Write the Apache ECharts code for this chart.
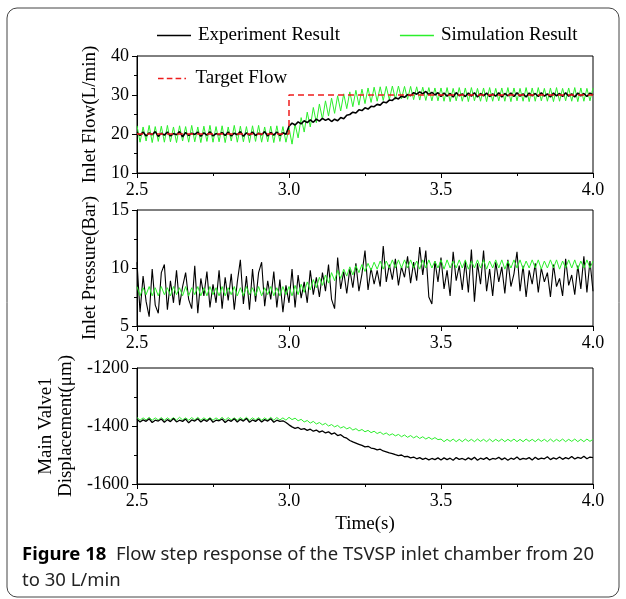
<!DOCTYPE html>
<html>
<head>
<meta charset="utf-8">
<script src="https://cdn.jsdelivr.net/npm/echarts@6.0.0/dist/echarts.min.js"></script>
<style>
  html, body { margin: 0; padding: 0; background: #fff; }
  #chart { width: 626px; height: 599px; }
</style>
</head>
<body>
<div id="chart"></div>
<script>
// time base: samples every 0.01 s from 2.50 s to 4.00 s
const T0 = 2.5;
const DT = 0.01;

// Inlet flow (L/min)
const expFlow = [
  20.4,19.6,20.5,19.5,20.3,19.8,20.6,19.4,20.2,19.7,
  20.5,19.5,20.1,19.8,20.6,19.3,20.4,19.6,20.2,19.9,
  20.5,19.4,20.3,19.7,20.6,19.5,20.1,19.8,20.4,19.6,
  20.5,19.5,20.2,19.8,20.6,19.4,20.3,19.7,20.5,19.6,
  20.2,19.8,20.6,19.5,20.4,19.7,20.5,19.6,20.3,19.9,
  22.0,22.8,22.3,23.1,22.6,23.4,22.9,23.6,23.0,23.8,
  23.3,24.0,23.5,23.9,23.2,23.8,23.4,24.2,23.9,24.8,
  25.0,25.6,25.4,26.2,26.0,26.7,26.4,27.1,27.0,27.6,
  27.4,28.2,28.0,28.7,28.6,29.3,29.0,29.7,29.4,30.1,
  29.8,30.6,30.2,30.8,30.3,30.9,30.1,30.7,30.0,30.6,
  29.6,30.5,29.7,30.4,29.5,30.6,29.8,30.3,29.6,30.5,
  29.7,30.6,29.5,30.4,29.8,30.5,29.6,30.3,29.7,30.6,
  29.5,30.4,29.8,30.5,29.6,30.6,29.7,30.3,29.5,30.5,
  29.8,30.4,29.6,30.6,29.7,30.3,29.5,30.5,29.8,30.4,
  29.6,30.6,29.7,30.3,29.5,30.5,29.8,30.4,29.6,30.5,30.0
];
const simFlow = [
  22.1,17.9,21.8,18.2,22.2,17.8,21.9,18.1,22.0,17.9,
  22.2,18.0,21.8,17.8,22.1,18.2,21.9,17.9,22.2,18.0,
  21.8,17.8,22.0,18.1,22.2,17.9,21.9,18.0,22.1,17.8,
  21.8,18.2,22.2,17.9,22.0,18.0,21.9,17.8,22.1,18.1,
  22.2,17.9,21.8,18.0,22.0,17.8,22.1,18.1,21.9,17.9,
  21.6,17.4,22.5,19.0,24.2,20.5,25.6,21.8,26.8,22.9,
  27.7,23.8,28.5,24.6,29.2,25.3,29.8,25.9,30.3,26.5,
  30.8,27.0,31.2,27.4,31.5,27.8,31.8,28.1,32.0,28.4,
  32.1,28.6,32.2,28.8,32.3,28.9,32.3,29.0,32.2,28.9,
  32.2,28.8,32.1,28.7,32.0,28.6,31.9,28.5,31.8,28.5,
  31.8,28.4,31.9,28.3,31.7,28.5,31.9,28.4,31.8,28.3,
  31.9,28.5,31.7,28.4,31.8,28.3,31.9,28.4,31.7,28.5,
  31.8,28.4,31.9,28.3,31.8,28.5,31.7,28.4,31.9,28.3,
  31.8,28.4,31.9,28.5,31.7,28.4,31.8,28.3,31.9,28.4,
  31.7,28.5,31.8,28.4,31.9,28.3,31.8,28.4,31.7,28.5,31.8
];
const targetTime = [2.5, 3.0, 3.0, 4.0];
const targetFlow = [20, 20, 30, 30];

// Inlet pressure (Bar)
const expPressure = [
  10.5,6.2,9.3,7.1,5.8,9.9,6.8,6.1,9.6,10.3,
  6.4,8.9,7.0,9.8,6.8,8.4,9.6,7.3,6.5,10.2,
  6.1,9.1,7.6,9.7,6.6,8.6,7.0,9.8,6.5,9.2,
  7.2,9.5,6.4,8.8,10.7,6.9,9.3,6.4,9.9,7.1,
  9.6,10.5,6.7,8.9,7.3,9.7,6.6,9.0,6.2,8.5,
  7.0,9.9,6.6,9.4,7.4,8.8,7.0,9.8,7.7,9.2,
  7.5,9.6,8.0,10.3,7.3,6.5,10.9,8.2,9.7,7.8,
  9.9,8.3,10.4,8.0,9.5,11.5,8.1,10.0,8.6,9.8,
  8.4,11.9,8.8,10.3,9.0,10.8,8.5,10.1,9.2,11.0,
  8.7,10.5,8.9,11.8,9.4,11.5,7.5,6.9,10.6,8.8,
  10.9,8.2,9.8,7.6,11.4,8.9,10.2,8.1,10.6,7.9,
  11.6,7.1,10.4,8.6,11.5,8.0,9.9,7.6,10.5,8.8,
  10.1,7.8,10.7,8.4,9.5,11.4,8.0,10.2,7.5,9.8,
  8.6,10.4,7.9,10.0,8.8,9.6,7.5,10.3,8.4,9.1,
  7.6,10.8,8.5,9.4,7.7,10.2,8.2,11.0,7.9,10.6,8.0
];
const simPressure = [
  8.4,7.6,8.3,7.7,8.4,7.6,8.3,7.6,8.4,7.7,
  8.3,7.6,8.4,7.7,8.3,7.6,8.4,7.6,8.3,7.7,
  8.4,7.6,8.3,7.6,8.4,7.7,8.3,7.6,8.4,7.6,
  8.3,7.7,8.4,7.6,8.3,7.6,8.4,7.7,8.3,7.6,
  8.4,7.6,8.3,7.7,8.4,7.6,8.3,7.6,8.4,7.7,
  8.4,7.6,8.5,7.7,8.6,7.9,8.8,8.1,9.0,8.3,
  9.2,8.5,9.4,8.7,9.6,8.9,9.8,9.1,9.9,9.3,
  10.1,9.4,10.2,9.6,10.3,9.7,10.4,9.8,10.5,9.9,
  10.6,9.9,10.6,10.0,10.7,10.0,10.7,10.0,10.7,10.0,
  10.7,10.0,10.6,9.9,10.7,10.0,10.7,10.0,10.6,10.0,
  10.7,9.9,10.7,10.0,10.6,10.0,10.7,10.0,10.7,9.9,
  10.6,10.0,10.7,10.0,10.7,9.9,10.6,10.0,10.7,10.0,
  10.7,9.9,10.6,10.0,10.7,10.0,10.7,9.9,10.6,10.0,
  10.7,10.0,10.7,9.9,10.6,10.0,10.7,10.0,10.7,9.9,
  10.6,10.0,10.7,10.0,10.7,9.9,10.6,10.0,10.7,10.0,10.6
];

// Main valve 1 displacement (um)
const expDisp = [
  -1377,-1386,-1379,-1384,-1375,-1388,-1380,-1383,-1376,-1387,
  -1378,-1385,-1374,-1386,-1380,-1384,-1376,-1389,-1379,-1383,
  -1375,-1386,-1378,-1384,-1374,-1387,-1380,-1382,-1376,-1388,
  -1379,-1384,-1375,-1386,-1377,-1383,-1374,-1387,-1379,-1384,
  -1376,-1386,-1378,-1383,-1375,-1387,-1380,-1384,-1382,-1388,
  -1396,-1403,-1408,-1405,-1412,-1409,-1415,-1411,-1418,-1414,
  -1421,-1417,-1424,-1420,-1428,-1424,-1433,-1430,-1438,-1442,
  -1450,-1455,-1459,-1463,-1467,-1472,-1470,-1476,-1478,-1482,
  -1480,-1486,-1489,-1493,-1495,-1499,-1502,-1500,-1506,-1505,
  -1510,-1507,-1513,-1509,-1515,-1511,-1517,-1512,-1516,-1510,
  -1517,-1510,-1516,-1511,-1518,-1509,-1515,-1512,-1517,-1510,
  -1516,-1508,-1518,-1511,-1515,-1509,-1517,-1512,-1514,-1508,
  -1516,-1510,-1518,-1511,-1515,-1507,-1516,-1512,-1514,-1509,
  -1517,-1508,-1515,-1511,-1513,-1506,-1516,-1510,-1514,-1507,
  -1515,-1509,-1513,-1505,-1514,-1508,-1512,-1504,-1513,-1507,-1509
];
const simDisp = [
  -1371,-1380,-1372,-1379,-1370,-1380,-1372,-1379,-1371,-1380,
  -1372,-1379,-1371,-1380,-1370,-1379,-1372,-1380,-1371,-1379,
  -1370,-1380,-1372,-1379,-1371,-1380,-1372,-1379,-1370,-1380,
  -1371,-1379,-1372,-1380,-1371,-1379,-1370,-1380,-1372,-1379,
  -1371,-1380,-1372,-1379,-1370,-1380,-1371,-1379,-1372,-1380,
  -1370,-1378,-1373,-1382,-1377,-1386,-1381,-1390,-1384,-1393,
  -1388,-1396,-1391,-1400,-1395,-1403,-1398,-1407,-1402,-1410,
  -1405,-1414,-1409,-1417,-1412,-1420,-1415,-1423,-1418,-1426,
  -1421,-1429,-1424,-1432,-1427,-1434,-1429,-1437,-1431,-1439,
  -1433,-1441,-1435,-1443,-1437,-1445,-1439,-1446,-1440,-1447,
  -1445,-1454,-1446,-1453,-1445,-1454,-1446,-1454,-1445,-1453,
  -1446,-1454,-1445,-1453,-1446,-1454,-1445,-1454,-1446,-1453,
  -1445,-1454,-1446,-1453,-1445,-1454,-1446,-1454,-1445,-1453,
  -1446,-1454,-1445,-1453,-1446,-1454,-1445,-1454,-1446,-1453,
  -1445,-1454,-1446,-1453,-1445,-1454,-1446,-1454,-1445,-1453,-1446
];

const xTicks = [2.5, 3.0, 3.5, 4.0];

const SERIF = '"Liberation Serif", "DejaVu Serif", serif';
const GREEN = '#2bef2b';
const RED = '#ee1c1c';

function toPairs(vals) {
  return vals.map((v, i) => [+(T0 + i * DT).toFixed(3), v]);
}

var chart = echarts.init(document.getElementById('chart'), null, { renderer: 'canvas' });

function xAxisOf(idx, withName) {
  return {
    type: 'value',
    gridIndex: idx,
    min: xTicks[0],
    max: xTicks[xTicks.length - 1],
    interval: 0.5,
    name: withName ? 'Time(s)' : '',
    nameLocation: 'middle',
    nameGap: 31,
    nameTextStyle: { fontFamily: SERIF, fontSize: 19, color: '#000' },
    axisLine: { show: true, onZero: false, lineStyle: { color: '#000', width: 1 } },
    axisTick: { show: true, length: 5, lineStyle: { color: '#000' } },
    minorTick: { show: true, splitNumber: 2, length: 3, lineStyle: { color: '#000' } },
    splitLine: { show: false },
    axisLabel: {
      margin: 8,
      fontFamily: SERIF, fontSize: 18, color: '#000',
      formatter: v => v.toFixed(1)
    }
  };
}

function yAxisOf(idx, name, min, max, interval, gap) {
  return {
    type: 'value',
    gridIndex: idx,
    min: min, max: max, interval: interval,
    name: name,
    nameLocation: 'middle',
    nameRotate: 90,
    nameGap: gap,
    nameTextStyle: { fontFamily: SERIF, fontSize: 19, color: '#000', lineHeight: 20 },
    axisLine: { show: true, lineStyle: { color: '#000', width: 1 } },
    axisTick: { show: true, length: 5, lineStyle: { color: '#000' } },
    minorTick: { show: true, splitNumber: 2, length: 3, lineStyle: { color: '#000' } },
    splitLine: { show: false },
    axisLabel: {
      margin: 8, fontFamily: SERIF, fontSize: 18, color: '#000',
      formatter: v => String(v)
    }
  };
}

function lineSeries(name, idx, data, color, width, z) {
  return {
    name: name,
    type: 'line',
    xAxisIndex: idx,
    yAxisIndex: idx,
    data: data,
    symbol: 'none',
    z: z,
    lineStyle: { color: color, width: width },
    itemStyle: { color: color }
  };
}

const gridBox = { show: true, borderColor: '#000', borderWidth: 1, left: 137, width: 456 };
const legendText = { fontFamily: SERIF, fontSize: 19, color: '#000', padding: [0, 0, 0, 2] };

var option = {
  animation: false,
  backgroundColor: '#fff',
  grid: [
    Object.assign({ top: 56, height: 117 }, gridBox),
    Object.assign({ top: 210, height: 116 }, gridBox),
    Object.assign({ top: 368, height: 116 }, gridBox)
  ],
  legend: [
    {
      data: [
        { name: 'Experiment Result', icon: 'rect' },
        { name: 'Simulation Result', icon: 'rect' }
      ],
      left: 152, top: 21,
      itemWidth: 34, itemHeight: 1.5, itemGap: 60,
      textStyle: legendText
    },
    {
      data: [
        { name: 'Target Flow', icon: 'path://M0 0H7V2H0Z M11 0H18V2H11Z M22 0H29V2H22Z M33 0H35V2H33Z' }
      ],
      left: 153, top: 64,
      itemWidth: 35, itemHeight: 1.6,
      textStyle: Object.assign({}, legendText, { padding: [0, 0, 0, 1] })
    }
  ],
  xAxis: [xAxisOf(0, false), xAxisOf(1, false), xAxisOf(2, true)],
  yAxis: [
    yAxisOf(0, 'Inlet Flow(L/min)', 10, 40, 10, 30),
    yAxisOf(1, 'Inlet Pressure(Bar)', 5, 15, 5, 30),
    yAxisOf(2, 'Main Valve1\nDisplacement(μm)', -1600, -1200, 200, 53)
  ],
  series: [
    lineSeries('Simulation Result', 0, toPairs(simFlow), GREEN, 1, 2),
    lineSeries('Experiment Result', 0, toPairs(expFlow), '#000', 1.6, 3),
    {
      name: 'Target Flow',
      type: 'line',
      xAxisIndex: 0, yAxisIndex: 0,
      data: targetTime.map((t, i) => [t, targetFlow[i]]),
      symbol: 'none',
      z: 4,
      lineStyle: { color: RED, width: 1.5, type: [6, 4] },
      itemStyle: { color: RED }
    },
    lineSeries('Experiment Result', 1, toPairs(expPressure), '#000', 1.1, 2),
    lineSeries('Simulation Result', 1, toPairs(simPressure), GREEN, 1, 3),
    lineSeries('Simulation Result', 2, toPairs(simDisp), GREEN, 1, 2),
    lineSeries('Experiment Result', 2, toPairs(expDisp), '#000', 1.3, 3)
  ],
  graphic: [
    {
      type: 'rect',
      shape: { x: 7, y: 8, width: 612, height: 589, r: 10 },
      style: { fill: 'none', stroke: '#444', lineWidth: 1 },
      silent: true
    },
    {
      type: 'text',
      x: 22, y: 542,
      style: {
        text: '{b|Figure 18}  Flow step response of the TSVSP inlet chamber from 20\nto 30 L/min',
        fontFamily: '"Noto Sans", sans-serif',
        fontSize: 18.5,
        lineHeight: 26,
        fill: '#222',
        rich: {
          b: { fontFamily: '"Noto Sans", sans-serif', fontSize: 18.5, fontWeight: 'bold', fill: '#000' }
        }
      }
    }
  ]
};

chart.setOption(option);
</script>
</body>
</html>
